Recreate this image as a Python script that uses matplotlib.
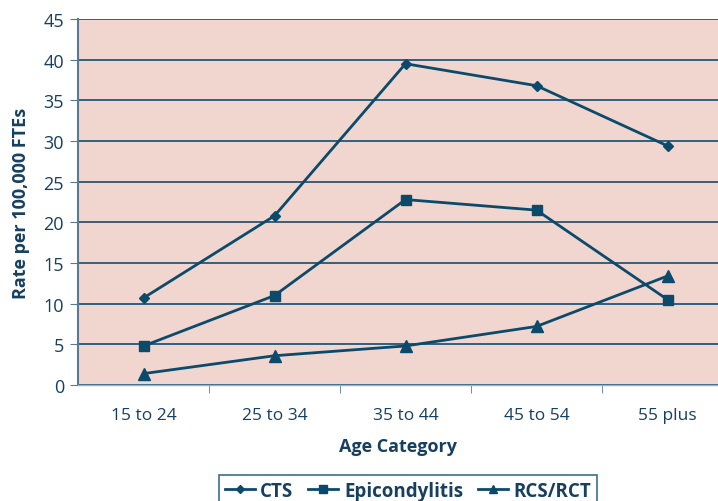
import matplotlib
matplotlib.use("Agg")
import matplotlib.pyplot as plt
import numpy as np

categories = ["15 to 24", "25 to 34", "35 to 44", "45 to 54", "55 plus"]
cts = [10.7, 20.8, 39.5, 36.8, 29.4]
epicondylitis = [4.8, 11.0, 22.8, 21.5, 10.5]
rcs_rct = [1.4, 3.6, 4.8, 7.2, 13.4]
yticks = [0, 5, 10, 15, 20, 25, 30, 35, 40, 45]

plt.rcParams['font.family'] = ['Open Sans', 'DejaVu Sans']
navy = '#0b4a6b'
txt = '#173f5f'
bg = '#f0d6ce'

fig = plt.figure(figsize=(7.18, 5.02), dpi=100)
ax = fig.add_axes([78/718, 116/502, 1 - 78/718, 366/502])
ax.set_facecolor(bg)

x = np.arange(len(categories))
ax.plot(x, cts, color=navy, lw=2, marker='D', ms=5, label='CTS')
ax.plot(x, epicondylitis, color=navy, lw=2, marker='s', ms=7, label='Epicondylitis')
ax.plot(x, rcs_rct, color=navy, lw=2, marker='^', ms=8, label='RCS/RCT')

ax.set_ylim(0, 45)
ax.set_yticks(yticks)
ax.set_xlim(-0.5, 640/131 - 0.5)
ax.set_xticks(x)
ax.set_xticklabels(categories)
ax.set_xticks(np.arange(0.5, 4.5, 1), minor=True)
ax.tick_params(axis='x', which='major', length=0, pad=16, labelsize=12.5, labelcolor=txt)
ax.tick_params(axis='x', which='minor', length=6, color='#5a7a90', direction='out')
ax.tick_params(axis='y', length=6, color='#5a7a90', labelsize=13, labelcolor=txt, pad=4)

ax.grid(axis='y', color='#124d72', lw=1.2)
ax.set_axisbelow(True)
for s in ['top', 'right']:
    ax.spines[s].set_visible(False)
ax.spines['left'].set_color('#5a7a90')
ax.spines['left'].set_linewidth(1.5)
ax.spines['bottom'].set_color('#9fb0bc')
ax.spines['bottom'].set_linewidth(1)

ax.set_ylabel('Rate per 100,000 FTEs', fontsize=13, fontweight='bold', color=txt, labelpad=10)
ax.set_xlabel('Age Category', fontsize=13, fontweight='bold', color=txt, labelpad=10)

leg = fig.legend(loc='lower center', bbox_to_anchor=(408/718, -0.03), ncol=3,
                 frameon=True, fancybox=False, edgecolor=navy,
                 handlelength=1.6, handletextpad=0.3, columnspacing=0.8,
                 borderpad=0.3, markerscale=0.8,
                 prop={'weight': 'bold', 'size': 13.5})
leg.get_frame().set_linewidth(1.2)
for t in leg.get_texts():
    t.set_color(txt)

fig.savefig('out.png', dpi=100)
